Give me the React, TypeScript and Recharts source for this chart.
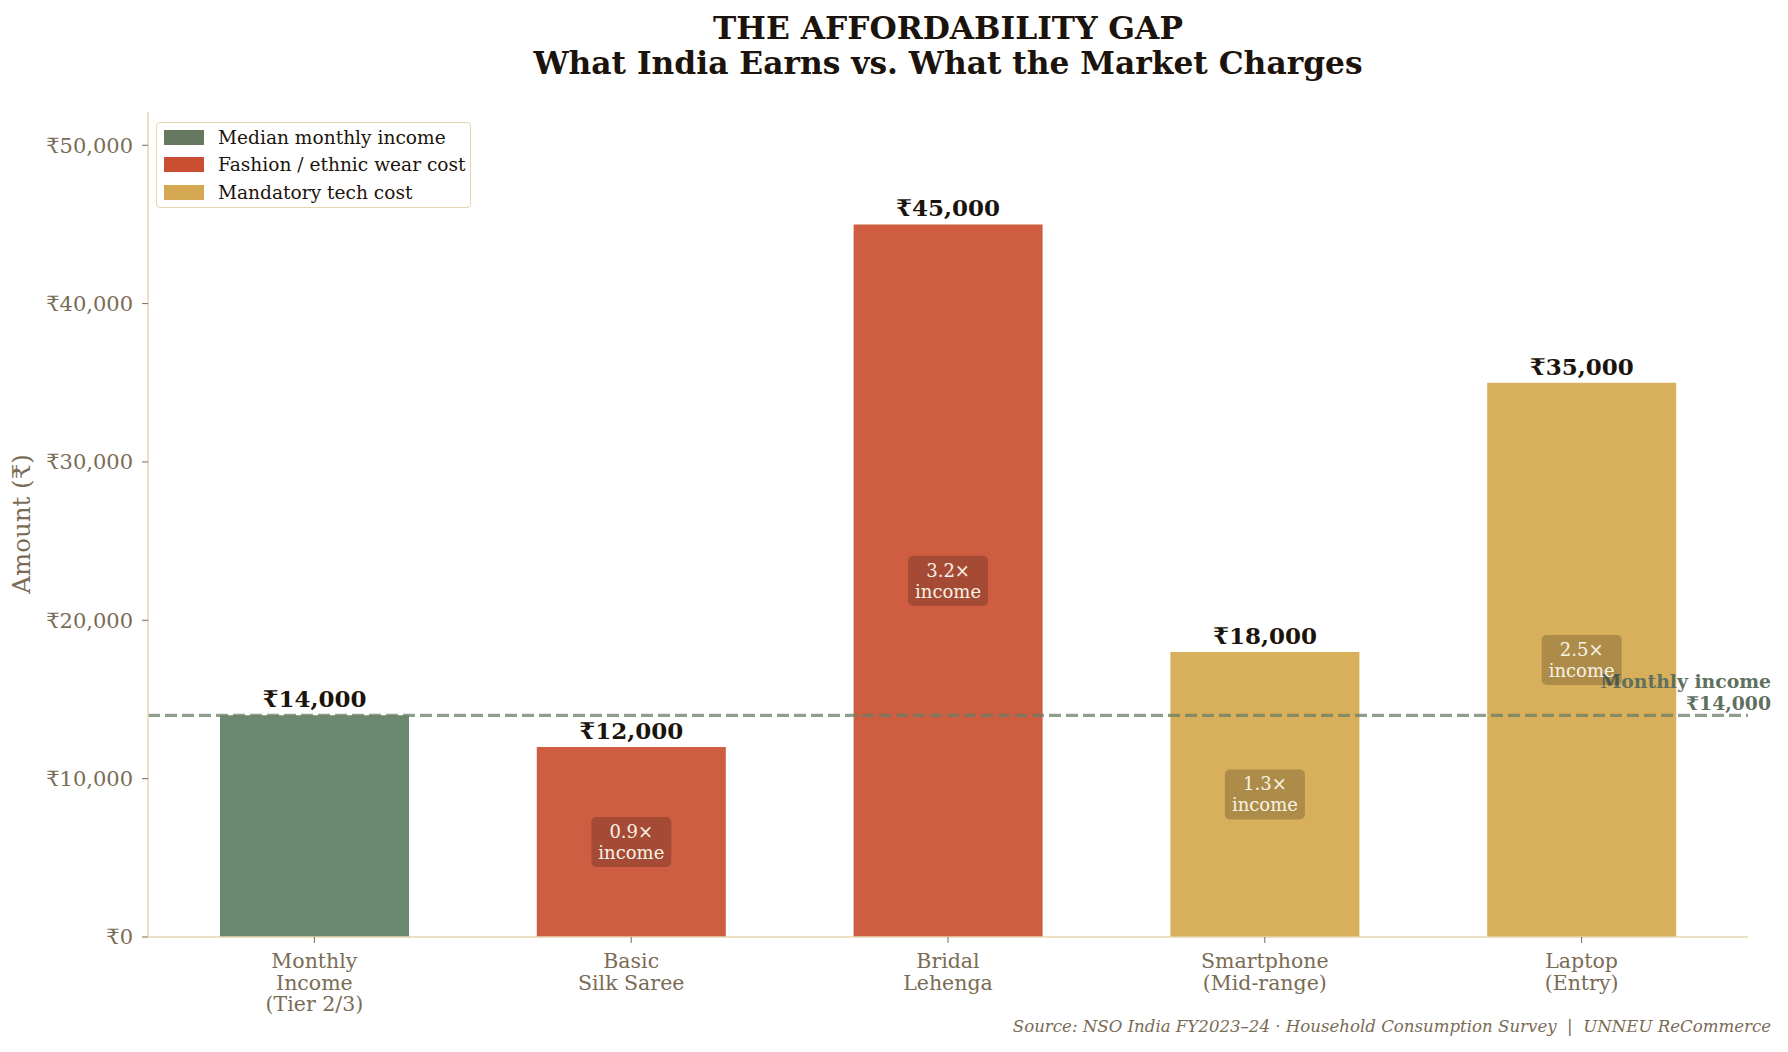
import React from "react";
import {
  BarChart,
  Bar,
  Cell,
  XAxis,
  YAxis,
  ReferenceLine,
  LabelList,
} from "recharts";

const categories = [
  "Monthly\nIncome\n(Tier 2/3)",
  "Basic\nSilk Saree",
  "Bridal\nLehenga",
  "Smartphone\n(Mid-range)",
  "Laptop\n(Entry)",
];
const amounts = [14000, 12000, 45000, 18000, 35000];
const kinds = ["income", "fashion", "fashion", "tech", "tech"];
const yTicks = [0, 10000, 20000, 30000, 40000, 50000];
const monthlyIncome = 14000;

const legendItems = [
  { key: "income", label: "Median monthly income" },
  { key: "fashion", label: "Fashion / ethnic wear cost" },
  { key: "tech", label: "Mandatory tech cost" },
];

const barColors: Record<string, string> = {
  income: "#6b8870",
  fashion: "#cf5d41",
  tech: "#d8af5a",
};
const swatchColors: Record<string, string> = {
  income: "#66785f",
  fashion: "#ca4e31",
  tech: "#d4a850",
};

const FONT = "'DejaVu Serif', serif";
const MUTED = "#7a6b55";
const SPINE = "#e6d7b0";
const INK = "#1c140c";

const data = categories.map((name, i) => ({
  name,
  value: amounts[i],
  kind: kinds[i],
}));

const rupee = (v: number) => "₹" + v.toLocaleString("en-US");

function CategoryTick(props: any) {
  const { x, y, payload } = props;
  const lines = String(payload.value).split("\n");
  return (
    <text
      x={x}
      y={y}
      textAnchor="middle"
      fill={MUTED}
      fontFamily={FONT}
      fontSize={20.5}
    >
      {lines.map((l, i) => (
        <tspan key={i} x={x} dy={i === 0 ? 23 : 21.7}>
          {l}
        </tspan>
      ))}
    </text>
  );
}

function ValueLabel(props: any) {
  const { x, y, width, value } = props;
  return (
    <text
      x={x + width / 2}
      y={y - 8}
      textAnchor="middle"
      fill={INK}
      fontFamily={FONT}
      fontWeight="bold"
      fontSize={23}
    >
      {rupee(value)}
    </text>
  );
}

// "n.n× income" badge in the middle of each cost bar
function RatioLabel(props: any) {
  const { x, y, width, height, value, index } = props;
  if (index === 0) return null;
  const cx = x + width / 2;
  const cy = y + height / 2;
  const ratio = (value / monthlyIncome).toFixed(1);
  return (
    <g>
      <rect
        x={cx - 40}
        y={cy - 25}
        width={80}
        height={50}
        rx={5}
        fill="#000"
        fillOpacity={0.2}
      />
      <text
        x={cx}
        y={cy - 4}
        textAnchor="middle"
        fill="#f8f2e4"
        fontFamily={FONT}
        fontSize={18}
      >
        {ratio}×
      </text>
      <text
        x={cx}
        y={cy + 17}
        textAnchor="middle"
        fill="#f8f2e4"
        fontFamily={FONT}
        fontSize={18}
      >
        income
      </text>
    </g>
  );
}

function IncomeLineLabel(props: any) {
  const { viewBox } = props;
  const right = viewBox.x + viewBox.width + 23;
  const y = viewBox.y;
  return (
    <g>
      <text
        x={right}
        y={y - 27}
        textAnchor="end"
        fill="#5f705e"
        fontFamily={FONT}
        fontWeight="bold"
        fontSize={18.8}
      >
        Monthly income
      </text>
      <text
        x={right}
        y={y - 5}
        textAnchor="end"
        fill="#5f705e"
        fontFamily={FONT}
        fontWeight="bold"
        fontSize={18.8}
      >
        {rupee(monthlyIncome)}
      </text>
    </g>
  );
}

function AxisTitle() {
  return (
    <text
      x={30}
      y={524}
      transform="rotate(-90 30 524)"
      textAnchor="middle"
      fill={MUTED}
      fontFamily={FONT}
      fontSize={24.5}
    >
      Amount (₹)
    </text>
  );
}

export default function App() {
  return (
    <div
      style={{
        position: "absolute",
        left: 0,
        top: 0,
        width: 1788,
        height: 1052,
        background: "#fff",
        fontFamily: FONT,
      }}
    >
      <div
        style={{
          position: "absolute",
          left: 148,
          width: 1600,
          top: 11,
          textAlign: "center",
          fontWeight: "bold",
          fontSize: 31.3,
          lineHeight: "35px",
          color: INK,
        }}
      >
        <div>THE AFFORDABILITY GAP</div>
        <div>What India Earns vs. What the Market Charges</div>
      </div>

      <BarChart
        width={1788}
        height={1052}
        data={data}
        margin={{ top: 112, right: 40, bottom: 85, left: 0 }}
      >
        <XAxis
          dataKey="name"
          interval={0}
          height={30}
          padding={{ left: 8, right: 8 }}
          axisLine={{ stroke: SPINE, strokeWidth: 1.5 }}
          tickLine={{ stroke: MUTED }}
          tickSize={6}
          tick={<CategoryTick />}
        />
        <YAxis
          width={148}
          domain={[0, 52100]}
          ticks={yTicks}
          tickFormatter={rupee}
          axisLine={{ stroke: SPINE, strokeWidth: 1.5 }}
          tickLine={{ stroke: MUTED }}
          tickSize={6}
          tickMargin={9}
          tick={{ fill: MUTED, fontSize: 21, fontFamily: FONT }}
          label={<AxisTitle />}
        />
        <Bar dataKey="value" barSize={189} isAnimationActive={false}>
          {data.map((d, i) => (
            <Cell key={i} fill={barColors[d.kind]} />
          ))}
          <LabelList dataKey="value" content={<ValueLabel />} />
          <LabelList dataKey="value" content={<RatioLabel />} />
        </Bar>
        <ReferenceLine
          y={monthlyIncome}
          stroke="#6b7f67"
          strokeOpacity={0.75}
          strokeWidth={3.3}
          strokeDasharray="12 5"
          label={<IncomeLineLabel />}
        />
      </BarChart>

      <div
        style={{
          position: "absolute",
          left: 156,
          top: 122,
          width: 313,
          height: 84,
          border: `1.5px solid ${SPINE}`,
          borderRadius: 4,
          background: "rgba(255,255,255,0.9)",
        }}
      >
        {legendItems.map((item, i) => (
          <div
            key={item.key}
            style={{
              position: "absolute",
              left: 7,
              top: 7 + i * 27.4,
              height: 15,
              display: "flex",
              alignItems: "center",
              whiteSpace: "nowrap",
            }}
          >
            <span
              style={{
                display: "inline-block",
                width: 40,
                height: 15,
                background: swatchColors[item.key],
              }}
            />
            <span
              style={{
                marginLeft: 14,
                fontSize: 18.6,
                color: INK,
              }}
            >
              {item.label}
            </span>
          </div>
        ))}
      </div>

      <div
        style={{
          position: "absolute",
          right: 17,
          top: 1017,
          fontSize: 16.6,
          fontStyle: "italic",
          color: MUTED,
          whiteSpace: "pre",
        }}
      >
        {"Source: NSO India FY2023–24 · Household Consumption Survey  |  UNNEU ReCommerce"}
      </div>
    </div>
  );
}
